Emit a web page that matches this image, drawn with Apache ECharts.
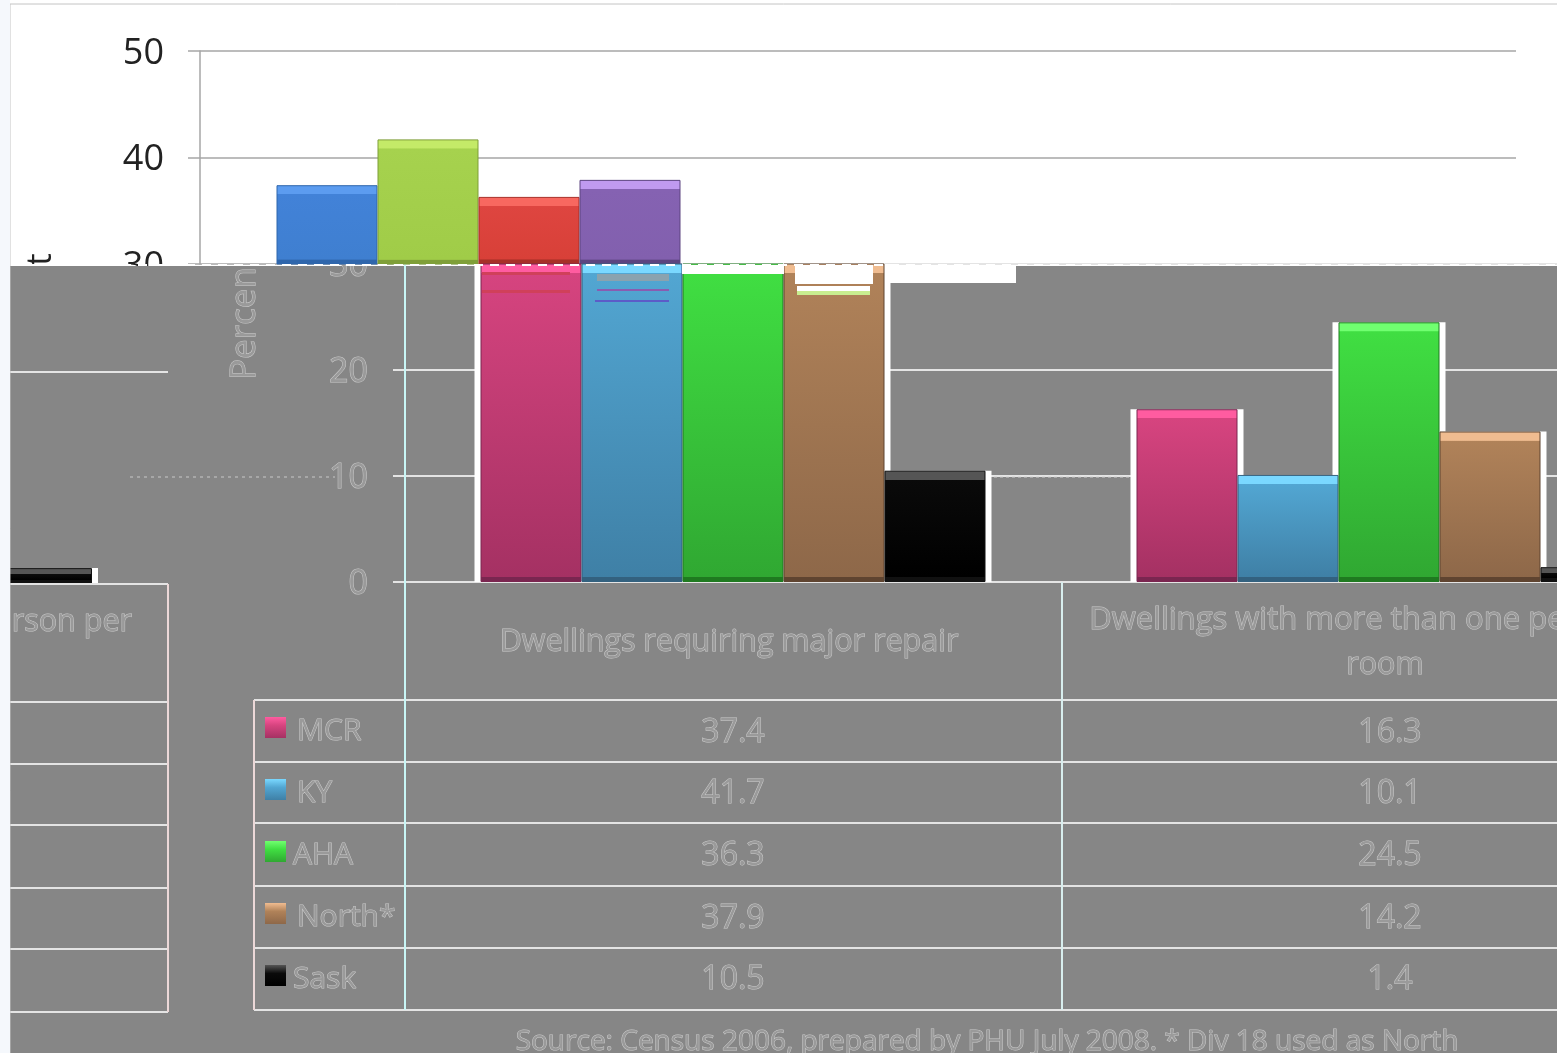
<!DOCTYPE html>
<html><head><meta charset="utf-8">
<style>html,body{margin:0;padding:0;background:#fff}#c{width:1557px;height:1053px}</style>
<script src="https://cdn.jsdelivr.net/npm/echarts@6/dist/echarts.min.js"></script></head>
<body><div id="c"></div>
<script>
const regions = ['MCR','KY','AHA','North*','Sask'];
const repair = [37.4,41.7,36.3,37.9,10.5];
const crowding = [16.3,10.1,24.5,14.2,1.4];
const hiddenColumn = [1.5];
const categories = ['Dwellings requiring major repair','Dwellings with more than one person per room'];
const upperTicks = [30,40,50];
const lowerTicks = [0,10,20,30];
const source = 'Source: Census 2006, prepared by PHU July 2008. * Div 18 used as North';
const upperColors = [['#5c9cf0','#4282d8','#3f7fd0','#2f66ac'],['#c4ea68','#a6d24e','#a0cc48','#7f9f38'],['#f86860','#de4540','#d84038','#a83028'],['#c09af0','#8562b2','#8260ae','#5c4480']];
const lowerColors = [['#ff5ca0','#d6447f','#a53163','#7a2650'],['#7ad8ff','#52a6d2','#3f80a6','#33617f'],['#70ff70','#40de42','#30a832','#1f7a20'],['#f0bc90','#b08259','#8e6849','#5f4430'],['#555555','#0a0a0a','#000000','#111111']];

const FONT='"Open Sans"';
const BG='#868686', EMB='#cccccc', TXT='#9a9a9a';
function grad(c,h){
  const t=Math.min(9/h,.4), b=Math.min(5/h,.25);
  return new echarts.graphic.LinearGradient(0,0,0,1,[
    {offset:0,color:c[0]},{offset:t,color:c[0]},{offset:t+.001,color:c[1]},
    {offset:1-b,color:c[2]},{offset:1-b+.001,color:c[3]},{offset:1,color:c[3]}]);
}
const ln=(x1,y1,x2,y2,stroke='#e4e4e4',w=2,extra={})=>({type:'line',z:6,shape:{x1,y1,x2,y2},style:{stroke,lineWidth:w,...extra},silent:true});
const rc=(x,y,width,height,fill,z=6)=>({type:'rect',z,shape:{x,y,width,height},style:{fill},silent:true});
const tx=(text,x,y,size,align='center',extra={})=>({type:'text',z:7,x,y:y+2,silent:true,style:{text,fontFamily:FONT,fontSize:size,fill:TXT,stroke:EMB,lineWidth:1,textAlign:align,textVerticalAlign:'middle',...extra}});

const rowsY=[700,762,823,886,948,1010], rowsLeft=[702,764,825,888,949,1012], textY=[729,791,853,915,977], valY=[731,792,854,917,978];
const gfx=[
  rc(0,0,1557,1053,'#ffffff',0),
  rc(10,266,1547,787,BG,2),
  ln(10,265,1557,265,'#ffffff',2,{lineDash:[9,7]}),
  // glitch patches of the reference
  rc(682,265,102,9,'#ffffff'),rc(795,265,78,19,'#ffffff'),rc(797,286,73,5,'#ffffff'),rc(797,291,73,4,'#c8ee90'),
  rc(886,265,130,18,'#ffffff'),rc(597,274,72,7,'#8aa2ae'),rc(597,289,72,2,'#8a5cb0'),rc(595,300,74,2,'#5c5cc8'),
  rc(482,272,88,3,'#d0405a'),rc(482,290,88,3,'#d0405a'),
  // table rules
  ...rowsY.map(y=>ln(254,y,1557,y)),
  ...rowsLeft.map(y=>ln(10,y,168,y)),
  ln(10,584,168,584),ln(168,584,168,1012,'#ecd8d8'),ln(254,700,254,1010,'#ecd8d8'),
  ln(405,266,405,1010,'#c8f6f6'),ln(1062,582,1062,1010,'#d8eeee'),
  ln(10,372,168,372),ln(130,477,335,477,'#c8c8c8',1,{lineDash:[3,4]}),
  ln(994,477,1130,477,'#d0d0d0',1,{lineDash:[3,3]}),
  // frame and left margin
  ln(10,4,1557,4,'#c4c4c4',1),ln(10,4,10,1053,'#c4c4c4',1),
  rc(0,0,10,1053,'#f5f8fc',8),
  // texts
  {type:'text',z:1,x:41,y:316,rotation:Math.PI/2,silent:true,style:{text:'Percent',fontFamily:FONT,fontSize:35,fill:'#222222',textAlign:'center',textVerticalAlign:'middle'}},
  {type:'text',z:7,x:245,y:380,rotation:Math.PI/2,silent:true,style:{text:'Percen',fontFamily:FONT,fontSize:35,fill:TXT,stroke:EMB,lineWidth:1,textAlign:'left',textVerticalAlign:'middle'}},
  tx(categories[0],729,640,30.5),
  tx('Dwellings with more than one person per',1388,618,31),
  tx('room',1385,663,30.5),
  tx('rson per',132,620,30.5,'right'),
  tx(source,987,1040,28),
  ...regions.map((r,i)=>tx(r,r==='AHA'||r==='Sask'?293:297,textY[i],30,'left')),
  ...repair.map((v,i)=>tx(v.toFixed(1),733,valY[i],32)),
  ...crowding.map((v,i)=>tx(v.toFixed(1),1390,valY[i],32)),
  // legend keys
  ...lowerColors.map((c,i)=>({type:'rect',z:7,silent:true,shape:{x:265,y:717+i*62,width:21,height:21},
    style:{fill:new echarts.graphic.LinearGradient(0,0,0,1,[{offset:0,color:c[0]},{offset:.4,color:c[1]},{offset:1,color:c[2]}])}})),
];

const lowerH=318, upperH=213, ppuLow=lowerH/30, ppuUp=upperH/20;
const series=[];
// upper panel
for(let i=0;i<4;i++) series.push({type:'bar',name:regions[i],xAxisIndex:0,yAxisIndex:0,z:4,barWidth:101,barGap:0,data:[repair[i],null],
  itemStyle:{color:grad(upperColors[i],(repair[i]-30)*ppuUp),borderColor:upperColors[i][3],borderWidth:1},animation:false});
series.push({type:'bar',xAxisIndex:0,yAxisIndex:0,z:4,barWidth:101,barGap:0,data:[null,null],animation:false});
// lower panel halo and bars
for(let i=0;i<5;i++) series.push({type:'bar',xAxisIndex:2,yAxisIndex:2,z:4,barWidth:113,barGap:'-10.62%',silent:true,data:[repair[i],crowding[i]],itemStyle:{color:'#ffffff'},animation:false});
for(let i=0;i<5;i++) series.push({type:'bar',name:regions[i],xAxisIndex:1,yAxisIndex:1,z:5,barWidth:101,barGap:0,
  data:[repair[i],crowding[i]].map(v=>({value:v,itemStyle:{color:grad(lowerColors[i],Math.min(v,30)*ppuLow)}})),
  itemStyle:{borderColor:lowerColors[i][3],borderWidth:1},animation:false});
// left remnant
series.push({type:'bar',xAxisIndex:4,yAxisIndex:4,z:4,barWidth:113,silent:true,data:hiddenColumn,itemStyle:{color:'#ffffff'},animation:false});
series.push({type:'bar',xAxisIndex:3,yAxisIndex:3,z:5,barWidth:101,data:hiddenColumn,itemStyle:{color:grad(lowerColors[4],16),borderColor:'#111',borderWidth:1},animation:false});

const hiddenX=i=>({type:'category',gridIndex:i,show:false,data:categories});
const hiddenY=i=>({type:'value',gridIndex:i,show:false,min:0,max:30,interval:10});
const G={outerBoundsMode:'none'};
const option={
  animation:false,backgroundColor:'#ffffff',
  grid:[
    {...G,left:200,top:51,width:1316,height:upperH},
    {...G,left:405,top:264,width:1312,height:lowerH},
    {...G,left:405,top:264,width:1312,height:lowerH},
    {...G,left:-85,top:266,width:253,height:lowerH},
    {...G,left:-85,top:266,width:253,height:lowerH},
  ],
  xAxis:[
    {type:'category',gridIndex:0,data:categories,z:1,axisLine:{show:false},axisTick:{show:false},axisLabel:{show:false}},
    {type:'category',gridIndex:1,data:categories,z:3,axisLine:{lineStyle:{color:'#e4e4e4',width:2}},axisTick:{show:false},axisLabel:{show:false}},
    hiddenX(2),
    {type:'category',gridIndex:3,show:false,data:['x']},
    {type:'category',gridIndex:4,show:false,data:['x']},
  ],
  yAxis:[
    {type:'value',gridIndex:0,min:upperTicks[0],max:upperTicks[2],interval:10,z:1,
     axisLine:{show:true,lineStyle:{color:'#a6a6a6',width:1.5}},axisTick:{show:true,length:12,lineStyle:{color:'#a6a6a6',width:1.5}},
     splitLine:{show:true,lineStyle:{color:'#a6a6a6',width:1.5,type:'solid'}},
     axisLabel:{fontFamily:FONT,margin:36,formatter:'{a|{value}}',rich:{a:{fontFamily:FONT,fontSize:36,color:'#222222',padding:[5,0,0,0]}}}},
    {type:'value',gridIndex:1,min:lowerTicks[0],max:lowerTicks[3],interval:10,z:3,
     axisLine:{show:true,lineStyle:{color:'#c8f6f6',width:2}},axisTick:{show:true,length:12,lineStyle:{color:'#e4e4e4',width:2}},
     splitLine:{show:true,lineStyle:{color:'#e4e4e4',width:2,type:'solid'}},
     axisLabel:{fontFamily:FONT,margin:37,formatter:'{a|{value}}',rich:{a:{fontFamily:FONT,fontSize:34,color:TXT,textBorderColor:EMB,textBorderWidth:1,padding:[5,0,0,0]}}}},
    hiddenY(2),hiddenY(3),hiddenY(4),
  ],
  series,
  graphic:{elements:gfx},
};
const chart=echarts.init(document.getElementById('c'),null,{renderer:'canvas'});
chart.setOption(option);
</script></body></html>
